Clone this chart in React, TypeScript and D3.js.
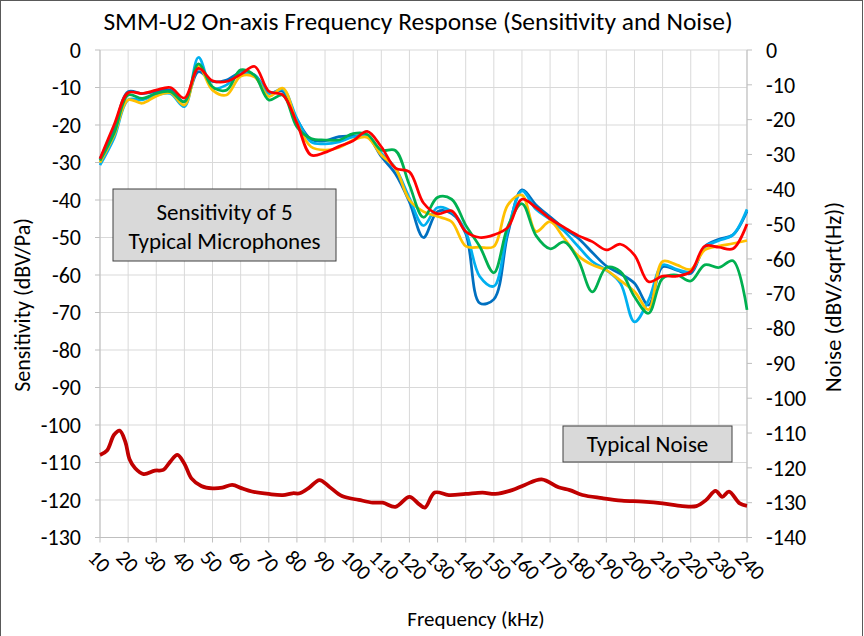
import * as d3 from 'd3';

const freqs = [10, 15, 20, 25, 30, 35, 40, 45, 50, 55, 60, 65, 70, 75, 80, 85, 90, 95, 100, 105, 110, 115, 120, 125, 130, 135, 140, 145, 150, 155, 160, 165, 170, 175, 180, 185, 190, 195, 200, 205, 210, 215, 220, 225, 230, 235, 240];

const micDarkBlue = [-29, -21, -11.1, -11.6, -11.1, -10.7, -13.8, -5.8, -8.4, -8, -6, -6.7, -11.3, -11, -18.5, -23.8, -24.2, -23.1, -23, -23, -28.4, -33, -40.5, -50, -43.1, -43.6, -48.9, -67.5, -66.5, -49, -37.3, -41.3, -44.5, -47.6, -50.2, -54, -57.6, -59.7, -62.2, -68, -57.8, -58.7, -59.6, -52.4, -50.5, -49.3, -43];
const micLightBlue = [-30.7, -23.5, -13.3, -13.3, -12, -11.6, -15.1, -2, -10.2, -9.3, -6.2, -6.7, -11.6, -10.5, -18.3, -24.5, -25, -24.5, -23.2, -23, -27.5, -31.5, -39.5, -46.8, -42, -43.1, -48.4, -60.4, -63, -48, -37.6, -42.5, -45.2, -48.3, -52.4, -56.4, -58.7, -62.2, -72.5, -66.7, -57.3, -58.5, -59.1, -52.6, -50.8, -49.3, -42.5];
const micYellow = [-30, -22.7, -13.3, -14.2, -12.3, -11.4, -14.7, -4.3, -10.7, -12, -7, -7.2, -12.4, -10.2, -19.5, -25.8, -26.7, -26, -24, -23.3, -28, -31.5, -40, -43.1, -44.4, -45.8, -52.3, -52.6, -52.4, -41.3, -38.7, -48.4, -45.8, -50.2, -54.9, -57.3, -58.7, -61.5, -64.4, -69.2, -56.4, -57.3, -58.5, -53.3, -52.3, -51.6, -50.8];
const micGreen = [-29.5, -22.2, -12, -12.9, -11.6, -11.1, -13.8, -3.7, -9.8, -10.7, -5.3, -6.8, -13.3, -12, -20.5, -23.6, -24, -24, -22.3, -22.5, -26.7, -26.8, -36, -44.6, -39.3, -39.8, -46.7, -52.4, -59.4, -47, -41, -49.5, -53, -51.2, -56, -64.5, -58, -59.1, -65.8, -70.2, -60.9, -60, -61.6, -57.3, -58, -56.2, -69.3];
const micRed = [-29, -20, -11.4, -11.6, -10.7, -10, -12.8, -4.9, -8.2, -8.4, -6.5, -4.4, -11, -12, -19.5, -28, -27.3, -25.7, -24.2, -21.7, -25.8, -31.5, -32.5, -40.8, -43.7, -42.9, -48.4, -50, -49.3, -47.3, -39.8, -42, -45, -47.3, -49.5, -51.1, -53.3, -51.8, -54.7, -61.8, -60.3, -60.3, -59.1, -52.3, -52.6, -53, -46.4];

const noiseFreqs = [10, 12.5, 15, 17, 19, 20.5, 22.5, 25.5, 29.5, 32.5, 35, 37.5, 40, 42.5, 46, 50, 53.5, 57, 60.5, 64, 70, 75, 78.5, 81, 84.5, 88, 91.5, 96, 102, 107, 110.5, 115, 120, 123.5, 125.5, 129, 134, 140, 146, 150.5, 156.5, 161, 167, 173, 177, 181.5, 188.5, 195.5, 203, 210, 217, 222, 225.5, 228.8, 231.2, 233.6, 237.4, 240];
const noiseLevel = [-116.3, -115, -110.5, -109.3, -112.5, -117.5, -120.1, -121.8, -120.8, -120.6, -118.2, -116.3, -118.8, -123, -125.2, -125.9, -125.7, -124.9, -125.9, -126.8, -127.5, -127.8, -127.3, -127.3, -125.6, -123.5, -125.4, -128.1, -129.2, -130, -130, -131.2, -128.3, -130.5, -131.4, -127.1, -127.8, -127.5, -127.1, -127.5, -126.4, -124.9, -123.3, -125.6, -126.4, -127.8, -128.7, -129.4, -129.7, -130.2, -131, -131, -129.2, -126.6, -128.3, -126.8, -130.2, -130.9];

const leftTicks = [0, -10, -20, -30, -40, -50, -60, -70, -80, -90, -100, -110, -120, -130];
const rightTicks = [0, -10, -20, -30, -40, -50, -60, -70, -80, -90, -100, -110, -120, -130, -140];

const micSeries = [
  { name: 'mic1', color: '#0070C0', values: micDarkBlue },
  { name: 'mic2', color: '#00B0F0', values: micLightBlue },
  { name: 'mic3', color: '#FFC000', values: micYellow },
  { name: 'mic4', color: '#00B050', values: micGreen },
  { name: 'mic5', color: '#FF0000', values: micRed },
];

const width = 864;
const height = 636;
const plot = { left: 100, right: 747, top: 50, bottom: 537.5 };
const font = 'Carlito, Calibri, Lato, sans-serif';

export default function App() {
  const x = d3.scaleLinear().domain([10, 240]).range([plot.left, plot.right]);
  const yLeft = d3.scaleLinear().domain([-130, 0]).range([plot.bottom, plot.top]);
  const yRight = d3.scaleLinear().domain([-140, 0]).range([plot.bottom, plot.top]);

  const micLine = d3.line<number>()
    .x((_, i) => x(freqs[i]))
    .y(d => yLeft(d))
    .curve(d3.curveCatmullRom.alpha(0.5));

  const noiseLine = d3.line<number>()
    .x((_, i) => x(noiseFreqs[i]))
    .y(d => yRight(d))
    .curve(d3.curveCatmullRom.alpha(0.5));

  const xTicks = freqs.filter(f => f % 10 === 0);

  return (
    <svg width={width} height={height} style={{ position: 'absolute', left: 0, top: 0, background: '#fff' }} fontFamily={font}>
      <rect x={0.5} y={0.5} width={862} height={650} fill="#fff" stroke="#595959" />

      <text x={418} y={30} textAnchor="middle" fontSize={25.5} fill="#000">
        SMM-U2 On-axis Frequency Response (Sensitivity and Noise)
      </text>

      {/* grid */}
      {xTicks.map(f => (
        <line key={'vg' + f} x1={x(f)} x2={x(f)} y1={plot.top} y2={plot.bottom} stroke="#d9d9d9" />
      ))}
      {leftTicks.map(t => (
        <line key={'hg' + t} x1={plot.left} x2={plot.right} y1={yLeft(t)} y2={yLeft(t)} stroke="#d9d9d9" />
      ))}

      {/* axes */}
      <line x1={plot.left} x2={plot.left} y1={plot.top} y2={plot.bottom} stroke="#bfbfbf" />
      <line x1={plot.right} x2={plot.right} y1={plot.top} y2={plot.bottom} stroke="#bfbfbf" />
      <line x1={plot.left} x2={plot.right} y1={plot.bottom} y2={plot.bottom} stroke="#bfbfbf" />

      {leftTicks.map(t => (
        <g key={'lt' + t}>
          <line x1={plot.left - 5} x2={plot.left} y1={yLeft(t)} y2={yLeft(t)} stroke="#bfbfbf" />
          <text x={81} y={yLeft(t)} dy="0.35em" textAnchor="end" fontSize={22}>{t}</text>
        </g>
      ))}
      {rightTicks.map(t => (
        <g key={'rt' + t}>
          <line x1={plot.right} x2={plot.right + 5} y1={yRight(t)} y2={yRight(t)} stroke="#bfbfbf" />
          <text x={766} y={yRight(t)} dy="0.35em" textAnchor="start" fontSize={22}>{t}</text>
        </g>
      ))}
      {xTicks.map(f => (
        <g key={'xt' + f}>
          <line x1={x(f)} x2={x(f)} y1={plot.bottom} y2={plot.bottom + 5} stroke="#bfbfbf" />
          <text transform={`translate(${x(f) - 8},${plot.bottom + 16}) rotate(45)`} dy="0.35em" fontSize={21}>{f}</text>
        </g>
      ))}

      {/* series */}
      {micSeries.map(s => (
        <path key={s.name} d={micLine(s.values) || ''} fill="none" stroke={s.color} strokeWidth={2.75} />
      ))}
      <path d={noiseLine(noiseLevel) || ''} fill="none" stroke="#C00000" strokeWidth={3.75} />

      {/* annotation boxes */}
      <rect x={113} y={189} width={223} height={72} fill="#d9d9d9" stroke="#404040" />
      <text x={224.5} y={212} dy="0.35em" textAnchor="middle" fontSize={23}>Sensitivity of 5</text>
      <text x={224.5} y={241} dy="0.35em" textAnchor="middle" fontSize={23}>Typical Microphones</text>
      <rect x={563} y={426} width={169} height={36} fill="#d9d9d9" stroke="#404040" />
      <text x={647.5} y={444} dy="0.35em" textAnchor="middle" fontSize={23}>Typical Noise</text>

      {/* axis titles */}
      <text transform="translate(30,305) rotate(-90)" textAnchor="middle" fontSize={22}>Sensitivity  (dBV/Pa)</text>
      <text transform="translate(833,297) rotate(-90)" textAnchor="middle" fontSize={23} dy="0.35em">Noise (dBV/sqrt(Hz))</text>
      <text x={476} y={626} textAnchor="middle" fontSize={21}>Frequency (kHz)</text>
    </svg>
  );
}
